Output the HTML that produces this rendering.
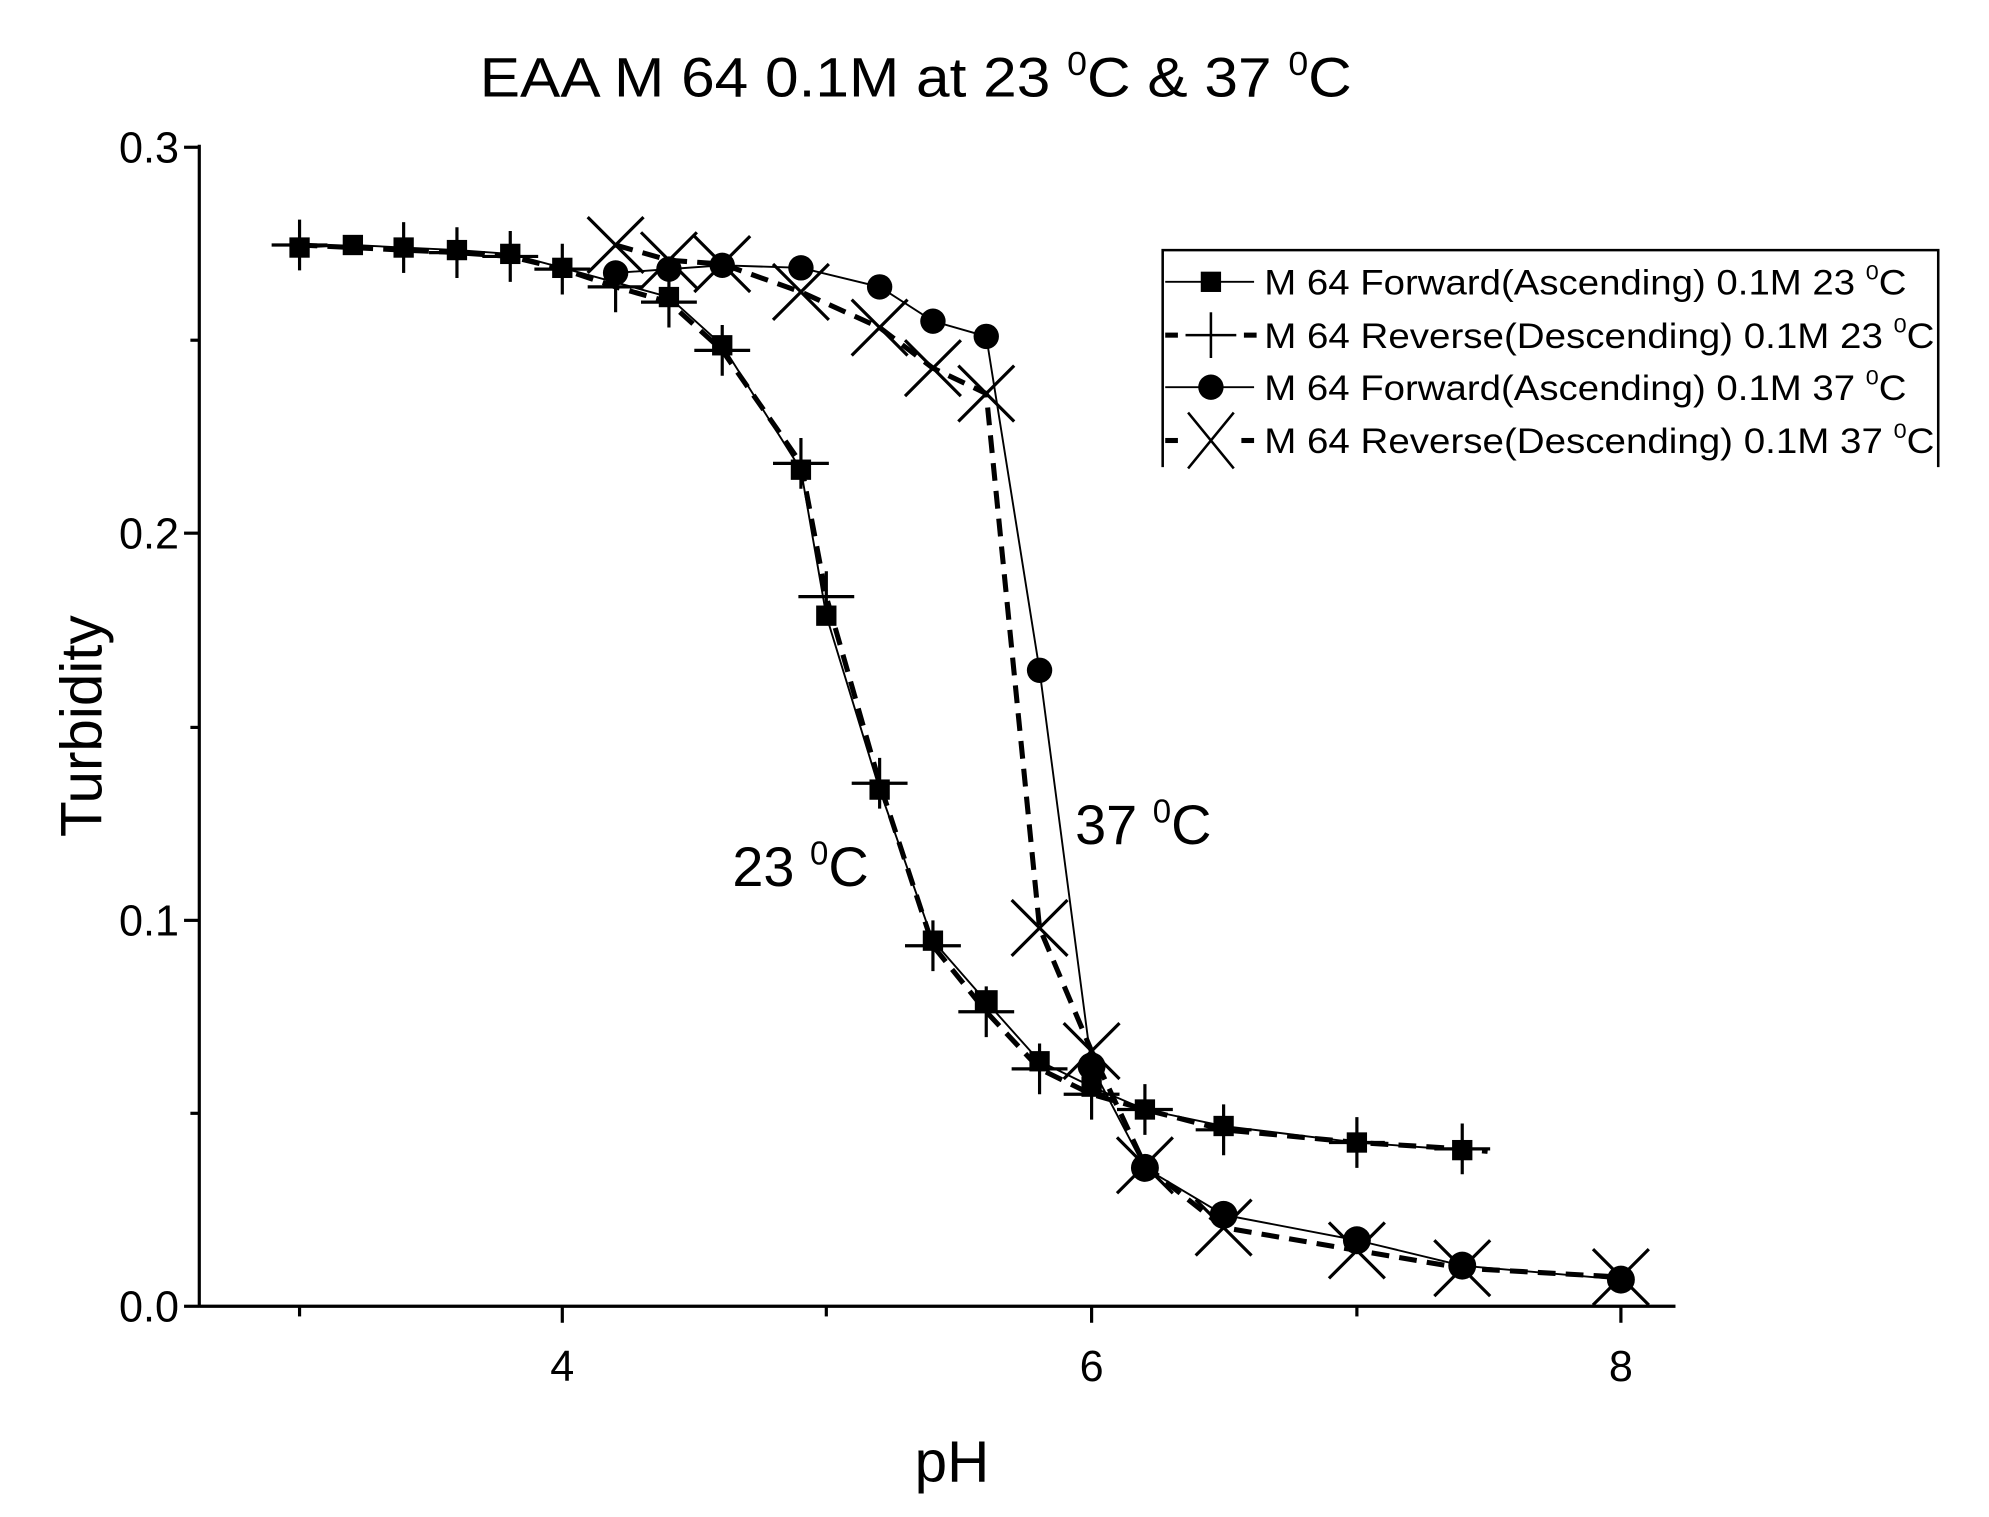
<!DOCTYPE html>
<html><head><style>html,body{margin:0;padding:0;background:#fff}svg{display:block}</style></head>
<body>
<svg width="1989" height="1517" viewBox="0 0 1567 1195" preserveAspectRatio="none" xmlns="http://www.w3.org/2000/svg" font-family="Liberation Sans, Arial, sans-serif">
<rect width="1567" height="1195" fill="#fff"/>
<text x="378" y="76" font-size="44" textLength="687" lengthAdjust="spacingAndGlyphs">EAA M 64 0.1M at 23 <tspan font-size="26" dy="-17">0</tspan><tspan dy="17">C &amp; 37 </tspan><tspan font-size="26" dy="-17">0</tspan><tspan dy="17">C</tspan></text>
<g stroke="#000" stroke-width="2.5" fill="none">
<line x1="157" y1="114" x2="157" y2="1030"/>
<line x1="157" y1="1029" x2="1320" y2="1029"/>
<line x1="157" y1="116" x2="145" y2="116"/><line x1="157" y1="268" x2="150" y2="268"/>
<line x1="157" y1="420" x2="145" y2="420"/><line x1="157" y1="573" x2="150" y2="573"/>
<line x1="157" y1="725" x2="145" y2="725"/><line x1="157" y1="877" x2="150" y2="877"/>
<line x1="157" y1="1029" x2="145" y2="1029"/>
<line x1="236" y1="1029" x2="236" y2="1037"/><line x1="443" y1="1029" x2="443" y2="1042"/>
<line x1="651" y1="1029" x2="651" y2="1037"/><line x1="860" y1="1029" x2="860" y2="1042"/>
<line x1="1069" y1="1029" x2="1069" y2="1037"/><line x1="1277" y1="1029" x2="1277" y2="1042"/>
</g>
<g font-size="34" text-anchor="end">
<text x="141" y="128">0.3</text><text x="141" y="432">0.2</text><text x="141" y="737">0.1</text><text x="141" y="1041">0.0</text>
</g>
<g font-size="34" text-anchor="middle">
<text x="443" y="1088">4</text><text x="860" y="1088">6</text><text x="1277" y="1088">8</text>
</g>
<text x="750" y="1167" font-size="46" text-anchor="middle">pH</text>
<text transform="translate(80,572) rotate(-90)" font-size="46" text-anchor="middle">Turbidity</text>
<text x="577" y="698" font-size="44">23 <tspan font-size="26" dy="-17">0</tspan><tspan dy="17">C</tspan></text>
<text x="847" y="665" font-size="44">37 <tspan font-size="26" dy="-17">0</tspan><tspan dy="17">C</tspan></text>

<polyline fill="none" stroke="#000" stroke-width="1.5" points="236,195 278,193 318,195 360,197 402,200 443,211 527,234 569,272 631,370 651,485 693,622 735,741 777,789 819,836 860,856 902,874 964,887 1069,900 1152,906"/>
<polyline fill="none" stroke="#000" stroke-width="4" stroke-dasharray="14,8" points="236,193 360,199 402,202 443,212 485,226 527,238 569,276 631,365 651,470 693,617 735,745 777,797 819,842 860,862 902,874 964,890 1069,900 1152,905 1172,907"/>
<polyline fill="none" stroke="#000" stroke-width="1.5" points="485,215 527,212 569,209 631,211 693,226 735,253 777,265 819,528 860,840 902,920 964,957 1069,977 1152,997 1277,1008"/>
<polyline fill="none" stroke="#000" stroke-width="4" stroke-dasharray="14,8" points="485,193 527,205 569,208 631,230 693,258 735,290 777,310 819,731 860,828 902,918 964,967 1069,985 1152,999 1277,1006"/>

<g fill="#000">
<rect x="228" y="187" width="16" height="16"/><rect x="270" y="185" width="16" height="16"/><rect x="310" y="187" width="16" height="16"/><rect x="352" y="189" width="16" height="16"/><rect x="394" y="192" width="16" height="16"/><rect x="435" y="203" width="16" height="16"/><rect x="519" y="226" width="16" height="16"/><rect x="561" y="264" width="16" height="16"/><rect x="623" y="362" width="16" height="16"/><rect x="643" y="477" width="16" height="16"/><rect x="685" y="614" width="16" height="16"/><rect x="727" y="733" width="16" height="16"/><rect x="768" y="780" width="18" height="18"/><rect x="811" y="828" width="16" height="16"/><rect x="852" y="848" width="16" height="16"/><rect x="894" y="866" width="16" height="16"/><rect x="956" y="879" width="16" height="16"/><rect x="1061" y="892" width="16" height="16"/><rect x="1144" y="898" width="16" height="16"/>
</g>
<g stroke="#000" stroke-width="2.5">
<path d="M214,193h44M236,173v40 M338,199h44M360,179v40 M380,202h44M402,182v40 M421,212h44M443,192v40 M463,226h44M485,206v40 M505,238h44M527,218v40 M547,276h44M569,256v40 M609,365h44M631,345v40 M629,470h44M651,450v40 M671,617h44M693,597v40 M713,745h44M735,725v40 M755,797h44M777,777v40 M797,842h44M819,822v40 M838,862h44M860,842v40 M880,874h44M902,854v40 M942,890h44M964,870v40 M1047,900h44M1069,880v40 M1130,905h44M1152,885v40"/>
<path d="M318,175v40"/>
</g>
<g fill="#000">
<circle cx="485" cy="215" r="10"/><circle cx="527" cy="212" r="10"/><circle cx="569" cy="209" r="10"/><circle cx="631" cy="211" r="10"/><circle cx="693" cy="226" r="10"/><circle cx="735" cy="253" r="10"/><circle cx="777" cy="265" r="10"/><circle cx="819" cy="528" r="10"/><circle cx="860" cy="840" r="11"/><circle cx="902" cy="920" r="11"/><circle cx="964" cy="957" r="11"/><circle cx="1069" cy="977" r="11"/><circle cx="1152" cy="997" r="11"/><circle cx="1277" cy="1008" r="11"/>
</g>
<g stroke="#000" stroke-width="2.5" fill="none">
<path d="M463,171l44,44M507,171l-44,44 M505,183l44,44M549,183l-44,44 M547,186l44,44M591,186l-44,44 M609,208l44,44M653,208l-44,44 M671,236l44,44M715,236l-44,44 M713,268l44,44M757,268l-44,44 M755,288l44,44M799,288l-44,44 M797,709l44,44M841,709l-44,44 M838,806l44,44M882,806l-44,44 M880,896l44,44M924,896l-44,44 M942,945l44,44M986,945l-44,44 M1047,963l44,44M1091,963l-44,44 M1130,977l44,44M1174,977l-44,44 M1255,984l44,44M1299,984l-44,44"/>
</g>

<g stroke="#000" stroke-width="2" fill="none">
<path d="M916,368V197H1527V368"/>
</g>
<g stroke="#000">
<line x1="918" y1="222" x2="988" y2="222" stroke-width="1.5"/>
<rect x="946" y="214" width="16" height="16" fill="#000" stroke="none"/>
<line x1="918" y1="264" x2="928" y2="264" stroke-width="4"/><line x1="980" y1="264" x2="990" y2="264" stroke-width="4"/>
<line x1="934" y1="264" x2="974" y2="264" stroke-width="2"/><line x1="954" y1="246" x2="954" y2="282" stroke-width="2"/>
<line x1="918" y1="305" x2="988" y2="305" stroke-width="1.5"/>
<circle cx="954" cy="305" r="10" fill="#000" stroke="none"/>
<line x1="918" y1="347" x2="928" y2="347" stroke-width="4"/><line x1="978" y1="347" x2="988" y2="347" stroke-width="4"/>
<path d="M936,325l36,44M972,325l-36,44" stroke-width="2" fill="none"/>
</g>
<g font-size="28">
<text x="996" y="232" textLength="506" lengthAdjust="spacingAndGlyphs">M 64 Forward(Ascending) 0.1M 23 <tspan font-size="17" dy="-12">0</tspan><tspan dy="12">C</tspan></text>
<text x="996" y="274" textLength="528" lengthAdjust="spacingAndGlyphs">M 64 Reverse(Descending) 0.1M 23 <tspan font-size="17" dy="-12">0</tspan><tspan dy="12">C</tspan></text>
<text x="996" y="315" textLength="506" lengthAdjust="spacingAndGlyphs">M 64 Forward(Ascending) 0.1M 37 <tspan font-size="17" dy="-12">0</tspan><tspan dy="12">C</tspan></text>
<text x="996" y="357" textLength="528" lengthAdjust="spacingAndGlyphs">M 64 Reverse(Descending) 0.1M 37 <tspan font-size="17" dy="-12">0</tspan><tspan dy="12">C</tspan></text>
</g>
</svg>
</body></html>
